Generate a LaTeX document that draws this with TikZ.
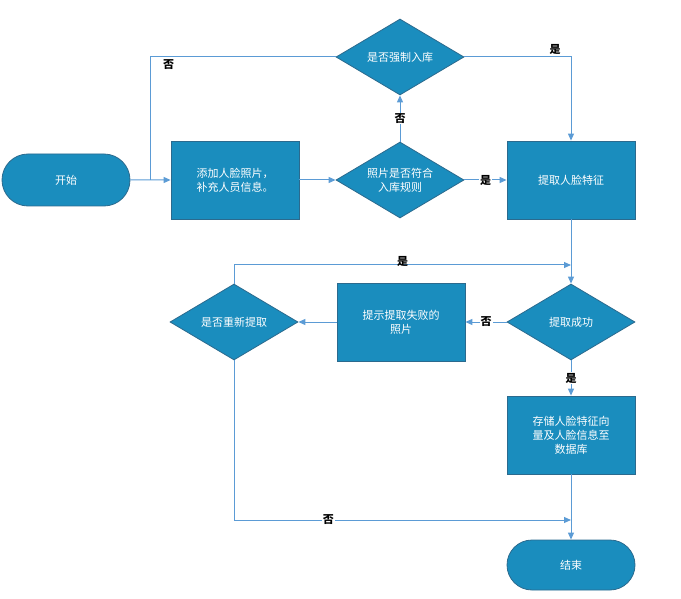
\documentclass[tikz,border=0pt]{standalone}
\usepackage{fontspec}
\setmainfont{Noto Sans CJK SC}
\usetikzlibrary{shapes.geometric,arrows.meta}
\definecolor{fillb}{HTML}{1A8DBE}
\definecolor{edgeb}{HTML}{2B6A8E}
\definecolor{lineb}{HTML}{5B9BD5}
\tikzset{
 base/.style={fill=fillb,draw=edgeb,line width=0.8pt,text=white,font=\fontsize{11}{14}\selectfont,align=center,inner sep=0pt},
 boxn/.style={base,rectangle,minimum width=128pt,minimum height=78pt},
 dia/.style={base,diamond,aspect=1.7,minimum width=128pt,minimum height=76pt},
 term/.style={base,rounded rectangle,minimum width=128pt,minimum height=52pt},
 conn/.style={draw=lineb,line width=1pt,-{Triangle[length=7pt,width=6pt]}},
 lbl/.style={font=\bfseries\fontsize{11}{13}\selectfont,text=black,fill=white,inner sep=1pt}
}
\usetikzlibrary{shapes.misc}
\begin{document}
\begin{tikzpicture}[x=1pt,y=-1pt]
\useasboundingbox (0,0) rectangle (681,599);
\node[term] (start) at (66,180) {开始};
\node[boxn] (add) at (235,180) {添加人脸照片，\\补充人员信息。};
\node[dia] (ok) at (400,180) {照片是否符合\\入库规则};
\node[dia] (force) at (400,57) {是否强制入库};
\node[boxn] (ext) at (571,180) {提取人脸特征};
\node[dia] (succ) at (571,322) {提取成功};
\node[boxn] (tip) at (401,322) {提示提取失败的\\照片};
\node[dia] (redo) at (234,322) {是否重新提取};
\node[boxn] (store) at (571,435) {存储人脸特征向\\量及人脸信息至\\数据库};
\node[term,minimum height=50pt] (end) at (571,565) {结束};
\coordinate (j1) at (150,180);
\draw[conn] (start) -- (add);
\draw[conn] (add) -- (ok);
\draw[conn] (ok) -- node[lbl]{是} (ext);
\draw[conn] (ok) -- node[lbl]{否} (force);
\draw[conn] (force.east) -- (571,57) node[lbl,pos=0.85,above=1pt,fill=none]{是} -- (ext.north);
\draw[draw=lineb,line width=1pt] (force.west) -- node[lbl,pos=0.9,below=1pt,fill=none]{否} (150,57) -- (j1);
\draw[conn] (ext) -- (succ);
\draw[conn] (redo.north) -- (234,265) -- node[lbl,fill=none,above=-3pt]{是} (571,265);
\draw[conn] (succ) -- node[lbl]{否} (tip);
\draw[conn] (tip) -- (redo);
\draw[conn] (succ) -- node[lbl]{是} (store);
\draw[conn] (store) -- (end);
\draw[conn] (redo.south) -- (234,520) -- node[lbl,pos=0.28]{否} (571,520);
\end{tikzpicture}
\end{document}
